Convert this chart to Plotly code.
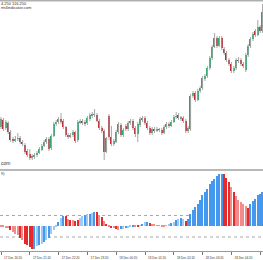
import plotly.graph_objects as go
import pandas as pd

# ---------------- data ----------------
times = pd.date_range("2014-12-17 20:20", periods=110, freq="5min")

open_ = [116.146,116.160,116.144,116.154,116.136,116.122,116.118,116.122,116.124,116.116,
         116.110,116.098,116.092,116.084,116.086,116.090,116.094,116.100,116.108,116.116,
         116.122,116.104,116.128,116.152,116.156,116.162,116.158,116.146,116.130,116.126,
         116.130,116.136,116.120,116.154,116.158,116.156,116.154,116.162,116.168,116.170,
         116.170,116.158,116.144,116.138,116.096,116.168,116.126,116.112,116.116,116.136,
         116.150,116.130,116.148,116.142,116.154,116.158,116.144,116.132,116.150,116.160,
         116.164,116.154,116.144,116.134,116.142,116.138,116.142,116.140,116.134,116.146,
         116.152,116.148,116.156,116.166,116.170,116.162,116.164,116.158,116.138,116.142,
         116.208,116.214,116.200,116.218,116.224,116.242,116.248,116.264,116.284,116.306,
         116.324,116.308,116.324,116.302,116.294,116.280,116.272,116.258,116.264,116.280,
         116.280,116.272,116.260,116.290,116.308,116.322,116.338,116.330,116.346,116.338]

close = [116.162,116.142,116.156,116.136,116.120,116.118,116.122,116.124,116.116,116.112,
         116.096,116.090,116.084,116.088,116.090,116.094,116.102,116.108,116.116,116.122,
         116.102,116.128,116.152,116.156,116.162,116.156,116.146,116.130,116.126,116.130,
         116.136,116.118,116.156,116.158,116.154,116.152,116.164,116.170,116.172,116.172,
         116.158,116.144,116.138,116.096,116.124,116.126,116.112,116.118,116.136,116.152,
         116.130,116.140,116.142,116.154,116.158,116.144,116.132,116.152,116.162,116.164,
         116.154,116.144,116.134,116.142,116.138,116.142,116.140,116.134,116.146,116.152,
         116.148,116.156,116.166,116.168,116.164,116.166,116.158,116.138,116.144,116.208,
         116.214,116.200,116.218,116.224,116.244,116.248,116.264,116.284,116.306,116.324,
         116.308,116.324,116.304,116.294,116.280,116.272,116.258,116.264,116.280,116.278,
         116.272,116.268,116.290,116.308,116.322,116.332,116.330,116.346,116.338,116.376]

high = [116.166,116.164,116.160,116.158,116.140,116.126,116.128,116.134,116.128,116.120,
        116.114,116.102,116.102,116.092,116.094,116.098,116.106,116.112,116.120,116.126,
        116.126,116.132,116.156,116.160,116.166,116.174,116.162,116.148,116.134,116.134,
        116.140,116.138,116.160,116.162,116.162,116.160,116.168,116.174,116.176,116.182,
        116.174,116.162,116.148,116.142,116.126,116.172,116.148,116.122,116.140,116.156,
        116.154,116.144,116.152,116.158,116.162,116.162,116.148,116.156,116.166,116.168,
        116.168,116.158,116.148,116.146,116.146,116.146,116.144,116.144,116.150,116.156,
        116.156,116.160,116.170,116.176,116.174,116.168,116.168,116.162,116.148,116.212,
        116.218,116.218,116.222,116.228,116.248,116.252,116.268,116.288,116.310,116.334,
        116.328,116.328,116.328,116.306,116.298,116.284,116.276,116.268,116.284,116.286,
        116.284,116.276,116.294,116.312,116.326,116.336,116.342,116.360,116.350,116.392]

low = [116.142,116.138,116.140,116.132,116.116,116.114,116.116,116.118,116.112,116.108,
       116.092,116.086,116.080,116.080,116.082,116.086,116.092,116.098,116.106,116.112,
       116.098,116.100,116.126,116.148,116.152,116.152,116.142,116.126,116.122,116.124,
       116.126,116.114,116.116,116.152,116.150,116.148,116.150,116.158,116.164,116.166,
       116.156,116.140,116.134,116.080,116.094,116.120,116.108,116.108,116.114,116.132,
       116.126,116.126,116.138,116.138,116.150,116.140,116.126,116.116,116.146,116.156,
       116.150,116.140,116.130,116.130,116.134,116.136,116.136,116.130,116.132,116.142,
       116.144,116.146,116.154,116.162,116.160,116.158,116.154,116.134,116.134,116.138,
       116.204,116.196,116.198,116.214,116.220,116.238,116.244,116.260,116.280,116.304,
       116.304,116.306,116.300,116.290,116.276,116.268,116.254,116.254,116.260,116.274,
       116.268,116.264,116.256,116.286,116.304,116.318,116.326,116.328,116.334,116.334]

hist = [-0.0007,-0.0010,-0.0020,-0.0027,-0.0047,-0.0063,-0.0080,-0.0097,-0.0120,-0.0147,
        -0.0180,-0.0197,-0.0213,-0.0230,-0.0230,-0.0207,-0.0197,-0.0180,-0.0163,-0.0147,
        -0.0120,-0.0087,-0.0047,-0.0007,0.0037,0.0080,0.0093,0.0093,0.0070,0.0060,
        0.0053,0.0047,0.0053,0.0080,0.0093,0.0103,0.0113,0.0120,0.0127,0.0137,
        0.0133,0.0103,0.0087,0.0047,0.0020,-0.0013,-0.0020,-0.0027,-0.0033,-0.0040,
        -0.0037,-0.0030,-0.0023,-0.0020,-0.0013,-0.0007,-0.0013,-0.0010,-0.0003,0.0013,
        0.0033,0.0037,0.0030,0.0020,0.0010,0.0003,-0.0003,-0.0010,-0.0013,-0.0003,
        0.0010,0.0027,0.0040,0.0060,0.0070,0.0077,0.0070,0.0043,0.0070,0.0120,
        0.0153,0.0187,0.0220,0.0253,0.0303,0.0337,0.0370,0.0413,0.0447,0.0470,
        0.0493,0.0520,0.0520,0.0520,0.0480,0.0437,0.0387,0.0337,0.0293,0.0260,
        0.0237,0.0213,0.0193,0.0177,0.0213,0.0247,0.0270,0.0303,0.0320,0.0337]

# U strong rise, u weak rise, D strong fall, d weak fall
hist_state = list("ddddDdddDd" "DDDDUuUuUu" "UuuuUuUDdD" "dDDuuUuUuU" "DdDdDdDdDd"
                  "UuUuuUdDuU" "uUDddddddu" "uUuUuUuDUU" "UUUUUUUUUU" "UUUDDDdDdd"
                  "dddDUUUUUU")

levels = [0.0100, -0.0115]

tick_times = ["2014-12-17 20:20", "2014-12-17 21:20", "2014-12-17 22:20", "2014-12-17 23:20",
              "2014-12-18 00:20", "2014-12-18 01:20", "2014-12-18 02:20", "2014-12-18 03:20",
              "2014-12-18 04:20", "2014-12-18 05:20"]
tick_labels = ["17 Dec 20:20", "17 Dec 21:20", "17 Dec 22:20", "17 Dec 23:20",
               "18 Dec 00:20", "18 Dec 01:20", "18 Dec 02:20", "18 Dec 03:20",
               "18 Dec 04:20", "18 Dec 05:20"]

header_lines = ["4.250 116.250", "mt4indicator.com"]
watermark = "com"
sub_label = "9)"

# ---------------- styling ----------------
W, H = 263, 260
MB = 9
PH = H - MB  # plot-area height in px

def py(p):  # px from top -> paper coordinate
    return 1 - p / PH

GREEN = "#2aa86c"
RED = "#c3242c"
WICK = "#a6a6a6"
STATE_COL = {"U": "#4499ee", "u": "#9fcaf4", "D": "#e62a2a", "d": "#f28c8c"}
BAR_MS = 300000 * 0.66
HIST_MS = 300000 * 0.56

fig = go.Figure()

# wicks
wx, wy = [], []
for t, lo, hi in zip(times, low, high):
    wx += [t, t, None]
    wy += [lo, hi, None]
fig.add_trace(go.Scatter(x=wx, y=wy, mode="lines", line=dict(color=WICK, width=1),
                         hoverinfo="skip", xaxis="x", yaxis="y", showlegend=False))

# bodies
base = [min(o, c) for o, c in zip(open_, close)]
height = [abs(c - o) for o, c in zip(open_, close)]
bcol = [GREEN if c > o else RED for o, c in zip(open_, close)]
fig.add_trace(go.Bar(x=times, y=height, base=base, width=BAR_MS,
                     marker=dict(color=bcol, line=dict(width=0)),
                     xaxis="x", yaxis="y", showlegend=False))

# histogram
fig.add_trace(go.Bar(x=times, y=hist, width=HIST_MS,
                     marker=dict(color=[STATE_COL[s] for s in hist_state], line=dict(width=0)),
                     xaxis="x2", yaxis="y2", showlegend=False))

xr = ["2014-12-17 20:17:54", "2014-12-18 05:25:50"]

shapes = [
    dict(type="line", xref="paper", yref="paper", x0=0, x1=1, y0=1, y1=1,
         line=dict(color="#b0b0b0", width=3)),
    dict(type="line", xref="paper", yref="paper", x0=0, x1=1, y0=py(170), y1=py(170),
         line=dict(color="#a0a0a0", width=1.5)),
]
for lv in levels:
    shapes.append(dict(type="line", xref="paper", yref="y2", x0=0, x1=1, y0=lv, y1=lv,
                       line=dict(color="#a8a8a8", width=1, dash="dot"), layer="below"))

ann_font = dict(family="Liberation Sans", color="#333333")
annotations = [
    dict(text=header_lines[0], x=0, y=py(3.5), xref="paper", yref="paper", xanchor="left",
         yanchor="middle", showarrow=False, font=dict(size=4, **ann_font), borderpad=0),
    dict(text=header_lines[1], x=0, y=py(7.5), xref="paper", yref="paper", xanchor="left",
         yanchor="middle", showarrow=False, font=dict(size=4, **ann_font), borderpad=0),
    dict(text=watermark, x=0, y=py(163), xref="paper", yref="paper", xanchor="left",
         yanchor="middle", showarrow=False, font=dict(size=5, **ann_font), borderpad=0),
    dict(text=sub_label, x=0, y=py(173), xref="paper", yref="paper", xanchor="left",
         yanchor="middle", showarrow=False, font=dict(size=4, **ann_font), borderpad=0),
]

fig.update_layout(
    width=W, height=H,
    margin=dict(l=0, r=0, t=0, b=MB, pad=0),
    paper_bgcolor="white", plot_bgcolor="white",
    barmode="overlay", bargap=0,
    showlegend=False,
    xaxis=dict(type="date", range=xr, domain=[0, 1], anchor="y",
               showticklabels=False, showgrid=False, zeroline=False, ticks=""),
    yaxis=dict(domain=[py(169), py(1)], range=[116.062, 116.398], visible=False),
    xaxis2=dict(type="date", range=xr, domain=[0, 1], anchor="y2", matches="x",
                tickvals=pd.to_datetime(tick_times), ticktext=tick_labels,
                tickfont=dict(family="Liberation Sans", size=3, color="#333333"),
                ticks="outside", ticklen=3, tickwidth=1, tickcolor="#777777",
                ticklabelshift=12, tickangle=0,
                showline=True, linecolor="#9a9a9a", linewidth=1,
                showgrid=False, zeroline=False, automargin=False),
    yaxis2=dict(domain=[0, py(171)], range=[-0.0255, 0.0545], visible=False),
    shapes=shapes,
    annotations=annotations,
)

fig.write_html("out.html")
